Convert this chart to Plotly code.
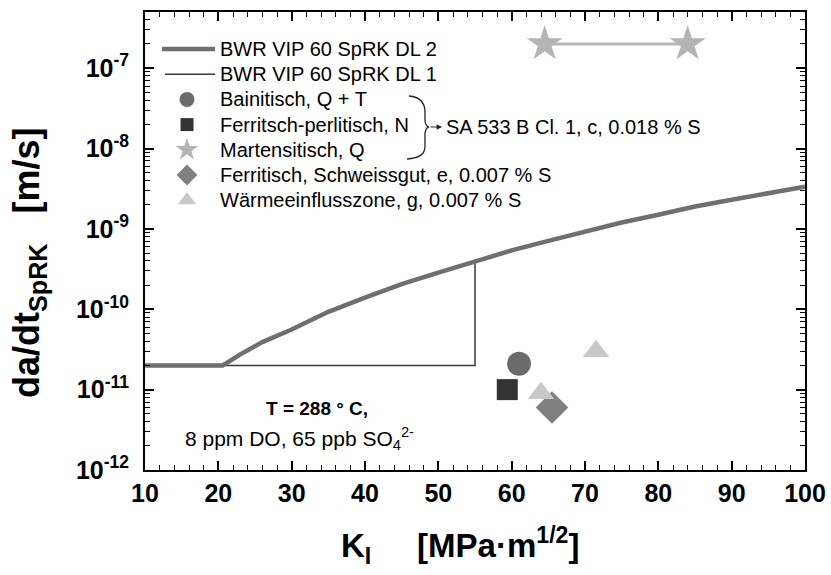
import plotly.graph_objects as go

# --- data -------------------------------------------------------------
# BWR VIP 60 SpRK disposition line 2 (stress intensity vs. crack growth rate)
k_dl2 = [10, 20.6, 23, 26, 30, 35, 40, 45, 50, 55, 60, 65, 70, 75, 80, 85, 90, 95, 100]
v_dl2 = [2.0e-11, 2.0e-11, 2.75e-11, 3.9e-11, 5.6e-11, 9.3e-11, 1.4e-10, 2.05e-10,
         2.85e-10, 3.9e-10, 5.4e-10, 7.1e-10, 9.3e-10, 1.2e-9, 1.5e-9, 1.9e-9,
         2.3e-9, 2.8e-9, 3.35e-9]

# BWR VIP 60 SpRK disposition line 1 (plateau, step up at K = 55)
k_dl1 = [10, 55, 55]
v_dl1 = [2.0e-11, 2.0e-11, 3.9e-10]

# Measured crack growth rates
k_bain, v_bain = [61.0], [2.1e-11]                 # Bainitisch, Q + T
k_ferr, v_ferr = [59.4], [1.0e-11]                 # Ferritsch-perlitisch, N
k_mart, v_mart = [64.5, 84.0], [2.0e-7, 2.0e-7]    # Martensitisch, Q
k_weld, v_weld = [65.5], [6.0e-12]                 # Schweissgut
k_haz, v_haz = [64.0, 71.5], [9.0e-12, 3.0e-11]    # Wärmeeinflusszone

y_ticks = [1e-12, 1e-11, 1e-10, 1e-9, 1e-8, 1e-7]
y_ticktext = ["10<sup>-12</sup>", "10<sup>-11</sup>", "10<sup>-10</sup>",
              "10<sup>-9</sup>", "10<sup>-8</sup>", "10<sup>-7</sup>"]
x_ticks = [10, 20, 30, 40, 50, 60, 70, 80, 90, 100]

# --- layout helpers ---------------------------------------------------
W, H = 831, 575
L, R, T, B = 145, 26, 12, 105
PW, PH = W - L - R, H - T - B


def px(x, y):
    """pixel position -> paper coordinates"""
    return (x - L) / PW, (H - B - y) / PH


FONT = "Liberation Sans, Arial, sans-serif"

C_DL2, C_DL1 = "#6f6f6f", "#3a3a3a"
C_BAIN, C_FERR, C_MART, C_WELD, C_HAZ = "#6b6b6b", "#333333", "#b4b4b4", "#808080", "#c8c8c8"

fig = go.Figure()

fig.add_trace(go.Scatter(x=k_dl1, y=v_dl1, mode="lines", name="BWR VIP 60 SpRK DL 1",
                         line=dict(color=C_DL1, width=1.5)))
fig.add_trace(go.Scatter(x=k_dl2, y=v_dl2, mode="lines", name="BWR VIP 60 SpRK DL 2",
                         line=dict(color=C_DL2, width=4.5)))
fig.add_trace(go.Scatter(x=k_bain, y=v_bain, mode="markers", name="Bainitisch, Q + T",
                         marker=dict(symbol="circle", size=24, color=C_BAIN)))
fig.add_trace(go.Scatter(x=k_ferr, y=v_ferr, mode="markers", name="Ferritsch-perlitisch, N",
                         marker=dict(symbol="square", size=21, color=C_FERR)))
fig.add_trace(go.Scatter(x=k_mart, y=v_mart, mode="lines", hoverinfo="skip",
                         line=dict(color="#b8b8b8", width=3)))
fig.add_trace(go.Scatter(x=k_mart, y=v_mart, mode="markers", name="Martensitisch, Q",
                         marker=dict(symbol="star", size=27, color=C_MART)))
fig.add_trace(go.Scatter(x=k_weld, y=v_weld, mode="markers",
                         name="Ferritisch, Schweissgut, e, 0.007 % S",
                         marker=dict(symbol="diamond", size=25, color=C_WELD)))
fig.add_trace(go.Scatter(x=k_haz, y=v_haz, mode="markers",
                         name="Wärmeeinflusszone, g, 0.007 % S",
                         marker=dict(symbol="triangle-up", size=23, color=C_HAZ)))

# --- legend (keys on an overlay axis spanning the plot area) ----------
legend_rows = [
    ("BWR VIP 60 SpRK DL 2", "line", dict(color=C_DL2, width=4.5), (162, 215)),
    ("BWR VIP 60 SpRK DL 1", "line", dict(color=C_DL1, width=1.5), (165, 215)),
    ("Bainitisch, Q + T", "marker", dict(symbol="circle", size=15, color=C_BAIN), None),
    ("Ferritsch-perlitisch, N", "marker", dict(symbol="square", size=13, color=C_FERR), None),
    ("Martensitisch, Q", "marker", dict(symbol="star", size=17, color=C_MART), None),
    ("Ferritisch, Schweissgut, e, 0.007 % S", "marker",
     dict(symbol="diamond", size=16, color=C_WELD), None),
    ("Wärmeeinflusszone, g, 0.007 % S", "marker",
     dict(symbol="triangle-up", size=16, color=C_HAZ), None),
]
ROW0, ROW_STEP, KEY_X, TEXT_X = 49, 25.2, 187, 218
for i, (label, kind, style, span) in enumerate(legend_rows):
    ry = ROW0 + i * ROW_STEP
    if kind == "line":
        (x0, yy), (x1, _) = px(span[0], ry), px(span[1], ry)
        fig.add_trace(go.Scatter(x=[x0, x1], y=[yy, yy], mode="lines", line=style,
                                 xaxis="x2", yaxis="y2", hoverinfo="skip"))
    else:
        kx, ky = px(KEY_X, ry)
        fig.add_trace(go.Scatter(x=[kx], y=[ky], mode="markers", marker=style,
                                 xaxis="x2", yaxis="y2", hoverinfo="skip"))
    tx, ty = px(TEXT_X, ry)
    fig.add_annotation(x=tx, y=ty, xref="paper", yref="paper", xanchor="left",
                       yanchor="middle", text=label, showarrow=False,
                       font=dict(family=FONT, size=20, color="black"))

# curly brace grouping the three SA 533 B Cl. 1 microstructures
pts = [(409, 96), (420, 97), (425, 103), (425, 112), (425, 120), (425, 124), (427, 127),
       (429, 127), (427, 127), (425, 130), (425, 134), (425, 146), (425, 154),
       (420, 158), (407, 159)]
p = [px(*q) for q in pts]
path = ("M{0[0]},{0[1]} C{1[0]},{1[1]} {2[0]},{2[1]} {3[0]},{3[1]} L{4[0]},{4[1]} "
        "C{5[0]},{5[1]} {6[0]},{6[1]} {7[0]},{7[1]} C{8[0]},{8[1]} {9[0]},{9[1]} "
        "{10[0]},{10[1]} L{11[0]},{11[1]} C{12[0]},{12[1]} {13[0]},{13[1]} "
        "{14[0]},{14[1]}").format(*p)
fig.add_shape(type="path", path=path, xref="paper", yref="paper",
              line=dict(color="#222222", width=1.3))

ax0, ay0 = px(442, 127)
fig.add_annotation(x=ax0, y=ay0, xref="paper", yref="paper", text="", showarrow=True,
                   ax=-13, ay=0, arrowhead=2, arrowsize=0.9, arrowwidth=1.2,
                   arrowcolor="#222222")
tx, ty = px(444, 127)
fig.add_annotation(x=tx, y=ty, xref="paper", yref="paper", xanchor="left", yanchor="middle",
                   text="SA 533 B Cl. 1, c, 0.018 % S", showarrow=False,
                   font=dict(family=FONT, size=20, color="black"))

# test conditions
cx, cy = px(317, 408)
fig.add_annotation(x=cx, y=cy, xref="paper", yref="paper", xanchor="center",
                   yanchor="middle", text="<b>T = 288 ° C,</b>",
                   showarrow=False, font=dict(family=FONT, size=19, color="black"))
dx, dy = px(183, 438)
fig.add_annotation(x=dx, y=dy, xref="paper", yref="paper", xanchor="left",
                   yanchor="middle",
                   text="8 ppm DO, 65 ppb SO<sub>4</sub><sup>2-</sup>",
                   showarrow=False, font=dict(family=FONT, size=21, color="black"))

# axis titles
yx, yy = px(29, 263)
fig.add_annotation(x=yx, y=yy, xref="paper", yref="paper", textangle=-90,
                   xanchor="center", yanchor="middle",
                   text="<b>da/dt<sub>SpRK</sub>\u00a0\u00a0\u00a0[m/s]</b>",
                   showarrow=False, font=dict(family=FONT, size=36, color="black"))
xx, xy = px(460, 545)
fig.add_annotation(x=xx, y=xy, xref="paper", yref="paper",
                   xanchor="center", yanchor="middle",
                   text="<b>K<sub>I</sub>\u00a0\u00a0\u00a0\u00a0\u00a0[MPa·m<sup>1/2</sup>]</b>",
                   showarrow=False, font=dict(family=FONT, size=33, color="black"))

axis_common = dict(showline=True, linecolor="black", linewidth=2, mirror="allticks",
                   ticks="inside", ticklen=9, tickwidth=1.5, tickcolor="black",
                   showgrid=False, zeroline=False, automargin=False)

fig.update_layout(
    width=W, height=H,
    margin=dict(l=L, r=R, t=T, b=B),
    paper_bgcolor="white", plot_bgcolor="white",
    font=dict(family=FONT, color="black"),
    showlegend=False,
    xaxis=dict(range=[10, 100], tickmode="array", tickvals=x_ticks,
               tickfont=dict(family=FONT, size=25, color="black", weight="bold"),
               minor=dict(dtick=2, ticks="inside", ticklen=5, tickwidth=1,
                          tickcolor="black", showgrid=False),
               **axis_common),
    yaxis=dict(type="log", range=[-12, -6.301], tickmode="array", tickvals=y_ticks,
               ticktext=y_ticktext, ticklabelstandoff=9,
               tickfont=dict(family=FONT, size=25, color="black", weight="bold"),
               minor=dict(dtick="D1", ticks="inside", ticklen=5, tickwidth=1,
                          tickcolor="black", showgrid=False),
               **axis_common),
    xaxis2=dict(overlaying="x", range=[0, 1], visible=False, fixedrange=True),
    yaxis2=dict(overlaying="y", range=[0, 1], visible=False, fixedrange=True),
)

fig.write_html("out.html")
